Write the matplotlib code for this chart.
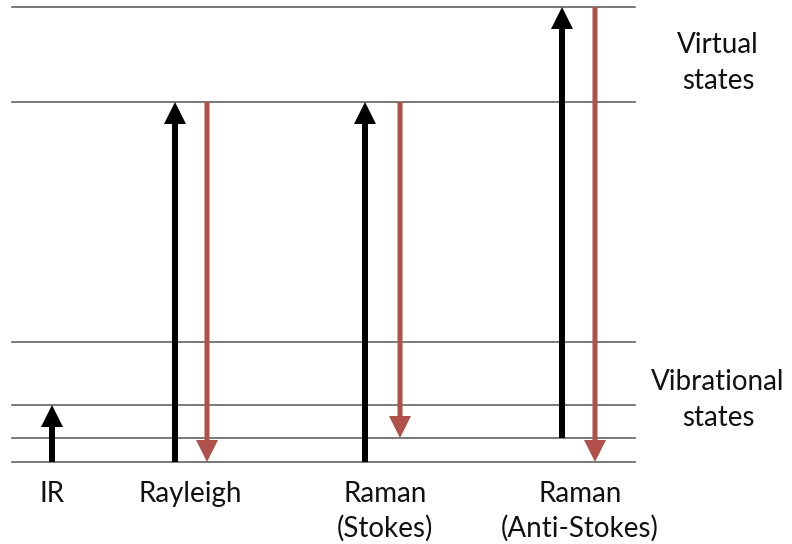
import matplotlib.pyplot as plt

# energy levels (arbitrary units, ground state = 0)
ground = 0
vib_levels = [24, 57, 120]
virtual_levels = [360, 455]

# transitions: label, x position, start level, end level, colour
labels = ["IR", "Rayleigh", "Raman\n(Stokes)", "Raman\n(Anti-Stokes)"]
label_x = [52, 190, 385, 580]
arrows = [
    (52, 0, 57, "black"),
    (175, 0, 360, "black"),
    (207, 360, 0, "#b0504a"),
    (365, 0, 360, "black"),
    (400, 360, 24, "#b0504a"),
    (562, 24, 455, "black"),
    (595, 455, 0, "#b0504a"),
]

plt.rcParams["font.family"] = ["Lato", "DejaVu Sans"]

fig = plt.figure(figsize=(7.92, 5.44), dpi=100)
ax = fig.add_axes([0, 0, 1, 1])
ax.set_xlim(0, 792)
ax.set_ylim(-82, 462)
ax.axis("off")

# horizontal level lines
for y in [ground] + vib_levels + virtual_levels:
    ax.plot([12, 635], [y, y], color="#555555", lw=1.1, zorder=1)

# transition arrows
for x, y0, y1, c in arrows:
    w = 6 if c == "black" else 5
    ax.arrow(x, y0, 0, y1 - y0, width=w, head_width=22, head_length=22,
             length_includes_head=True, color=c, lw=0, zorder=3)

# labels under the diagram
for lab, x in zip(labels, label_x):
    ax.text(x, -19, lab, ha="center", va="top", fontsize=20,
            linespacing=1.35, color="#111111")

ax.text(718, 399, "Virtual\nstates", ha="center", va="center",
        fontsize=20, linespacing=1.5, color="#111111")
ax.text(718, 62, "Vibrational\nstates", ha="center", va="center",
        fontsize=20, linespacing=1.5, color="#111111")

fig.savefig("out.png", dpi=100)
